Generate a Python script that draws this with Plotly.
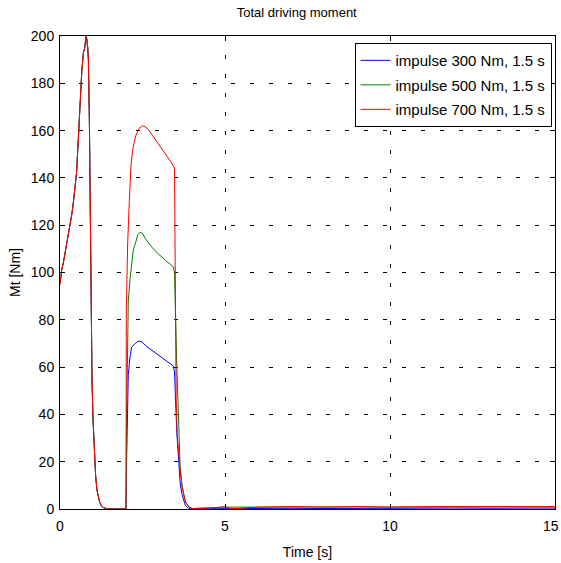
import plotly.graph_objects as go

# Shared first peak (all three series coincide)
t_peak = [0.0, 0.05, 0.1, 0.15, 0.2, 0.25, 0.3, 0.35, 0.4, 0.45, 0.5, 0.55, 0.6, 0.63, 0.66, 0.71,
          0.75, 0.79, 0.81, 0.84, 0.86, 0.89, 0.91, 0.93, 0.95, 0.97, 1.0, 1.04, 1.08, 1.12,
          1.16, 1.2, 1.25, 1.3, 1.4, 1.5, 1.7, 1.99]
m_peak = [95, 101, 104, 108, 111, 115, 119, 124, 129, 135, 142, 155, 169, 172, 185, 193,
          195, 200, 199, 195, 190, 165, 140, 100, 70, 55, 38, 24, 14, 8,
          5, 3, 1.5, 0.7, 0.2, 0.0, 0.0, 0.0]

# Second impulse and tail, per series
t_300 = [2.0, 2.02, 2.04, 2.07, 2.12, 2.17, 2.25, 2.32, 2.4, 2.5, 2.6, 2.7, 2.8, 2.9, 3.0,
         3.1, 3.2, 3.3, 3.43, 3.47, 3.5, 3.54, 3.6, 3.64, 3.7, 3.8, 3.9, 4.0, 4.5, 5.0, 6.0,
         7.0, 8.0, 9.0, 10.0, 11.0, 12.0, 13.0, 14.0, 15.0]
m_300 = [0, 22, 40, 57, 64, 68.5, 69.5, 70.5, 71, 70.5, 69, 68, 67, 66, 65,
         64, 63, 62, 60.5, 58, 45, 32, 20, 11, 6, 1.5, 0.3, 0.0, 0.1, 0.2, 0.2,
         0.3, 0.2, 0.3, 0.3, 0.3, 0.4, 0.3, 0.4, 0.4]

t_500 = [2.0, 2.02, 2.05, 2.07, 2.12, 2.17, 2.22, 2.3, 2.36, 2.42, 2.5, 2.6, 2.7, 2.8, 2.9,
         3.0, 3.1, 3.2, 3.3, 3.43, 3.47, 3.5, 3.54, 3.6, 3.64, 3.7, 3.8, 3.9, 4.0, 4.5, 5.0,
         6.0, 7.0, 8.0, 9.0, 10.0, 11.0, 12.0, 13.0, 14.0, 15.0]
m_500 = [0, 40, 75, 88, 97, 104, 109.5, 113, 116, 117, 116.5, 114, 112, 110.5, 109,
         107.5, 106.5, 105, 104, 102.5, 100, 80, 60, 35, 18, 10, 3, 1, 0.2, 0.5, 0.8,
         0.8, 0.9, 0.8, 0.9, 0.8, 0.9, 0.9, 0.8, 0.9, 0.9]

t_700 = [1.99, 2.0, 2.01, 2.05, 2.1, 2.15, 2.2, 2.3, 2.4, 2.5, 2.6, 2.7, 2.8, 2.9, 3.0,
         3.1, 3.2, 3.3, 3.4, 3.47, 3.49, 3.52, 3.55, 3.6, 3.65, 3.7, 3.8, 3.9, 4.0, 4.5, 5.0,
         5.2, 6.0, 7.0, 8.0, 9.0, 10.0, 11.0, 12.0, 13.0, 14.0, 15.0]
m_700 = [0, 0, 84, 112, 130, 145, 152, 158, 161, 162, 161.5, 160, 158, 156, 154.5,
         152.5, 150.5, 148.5, 146, 144, 80, 46, 32, 22, 15, 9, 3, 1, 0.2, 0.4, 0.9,
         0.1, 0.8, 1.0, 0.8, 1.0, 0.8, 1.0, 1.0, 0.9, 1.0, 1.0]

x_ticks = [0, 5, 10, 15]
x_labels = ["0", "5", "10", ""]   # last label placed as annotation so it stays inside the page
last_x_label = "15"
y_ticks = list(range(0, 201, 20))

names = ["impulse 300 Nm, 1.5 s", "impulse 500 Nm, 1.5 s", "impulse 700 Nm, 1.5 s"]
colors = ["#0000ff", "#008000", "#ff0000"]
series_t = [t_300, t_500, t_700]
series_m = [m_300, m_500, m_700]

fig = go.Figure()
for name, col, tt, mm in zip(names, colors, series_t, series_m):
    fig.add_trace(go.Scatter(
        x=t_peak + tt, y=m_peak + mm, mode="lines", name=name,
        legendgroup=name, line=dict(color=col, width=1)))

font = "Liberation Sans, Arial, sans-serif"
axis_common = dict(
    showline=True, linecolor="black", linewidth=1, mirror="ticks",
    ticks="inside", ticklen=5, tickcolor="black", tickwidth=1,
    showgrid=True, gridcolor="black", gridwidth=1, griddash="4px,15px",
    zeroline=False, tickfont=dict(family=font, size=14, color="black"),
    automargin=False,
)

fig.update_layout(
    width=561, height=563,
    margin=dict(l=60, r=6, t=36, b=54, autoexpand=False),
    paper_bgcolor="white", plot_bgcolor="white",
    title=dict(text="Total driving moment", x=0.529, xanchor="center", y=0.977, yanchor="middle",
               font=dict(family=font, size=13, color="black")),
    xaxis=dict(range=[0, 15], tickvals=x_ticks, ticktext=x_labels, ticklabelstandoff=4,
               title=dict(text="Time [s]", font=dict(family=font, size=14, color="black"), standoff=14),
               **axis_common),
    yaxis=dict(range=[0, 200], tickvals=y_ticks, ticklabelstandoff=2,
               title=dict(text="Mt [Nm]", font=dict(family=font, size=14, color="black"), standoff=6),
               **axis_common),
    legend=dict(x=0.993, xanchor="right", y=0.985, yanchor="top",
                bordercolor="black", borderwidth=1, bgcolor="white",
                font=dict(family=font, size=15, color="black"),
                tracegroupgap=2),
    showlegend=True,
)

fig.add_annotation(x=x_ticks[-1], xref="x", y=0, yref="paper", text=last_x_label,
                   xanchor="right", yanchor="top", xshift=6, yshift=-7, showarrow=False,
                   font=dict(family=font, size=14, color="black"))

fig.write_html("out.html")
